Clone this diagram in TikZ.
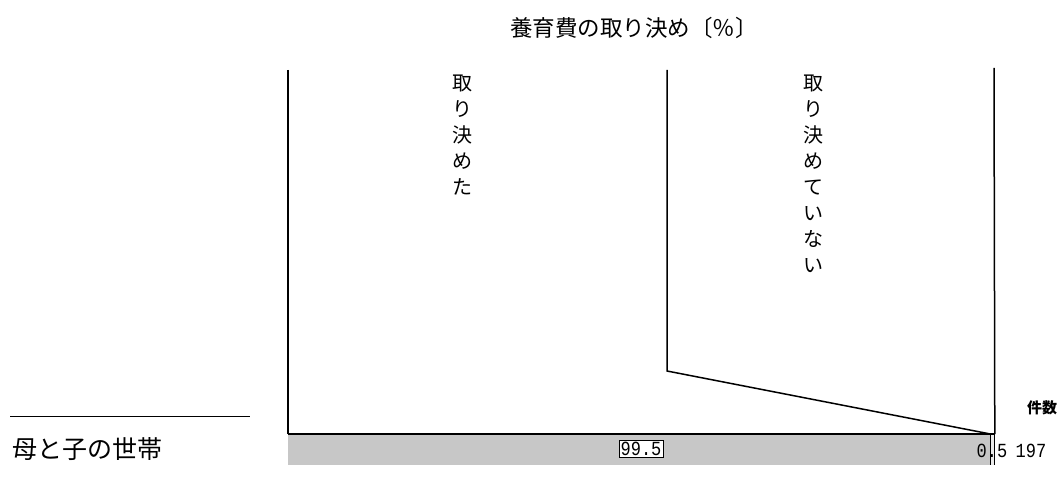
\documentclass[tikz,border=0pt]{standalone}
\usepackage{fontspec}
\setmainfont{Noto Sans CJK JP}
\newfontfamily\numfont{Liberation Mono}[FakeStretch=0.85]
\usetikzlibrary{positioning}

\tikzset{
  jlabel/.style={inner sep=0pt, font=\fontsize{22.5}{24}\selectfont},
  vlabel/.style={align=center, inner sep=0pt, anchor=north,
    font=\fontsize{20}{26}\selectfont},
  num/.style={inner sep=1.5pt, font=\numfont\fontsize{20}{21}\selectfont},
  barpart/.style={inner sep=0pt, minimum height=31pt},
  sep/.style={line width=1.5pt},
}

\begin{document}
\begin{tikzpicture}[x=1pt,y=-1pt]
		\useasboundingbox (0,0) rectangle (1060,489);

		\node[jlabel] (title) at (634,28) {養育費の取り決め〔％〕};

		% bar
		\node[barpart, fill=black!22, minimum width=702pt, anchor=north west]
		(yes) at (288,434) {};
		\node[barpart, fill=black!8, minimum width=4pt, right=0pt of yes]
		(no) {};

		\coordinate (ytop) at (288,70);
		\coordinate (mtop) at (667,70);
		\coordinate (mbend) at (667,371);
		\coordinate (rtop) at (994,68);
		\coordinate (rulea) at (10,416);
		\coordinate (ruleb) at (250,416);

		\draw[sep] (ytop) -- (yes.north west);
		\draw[sep] (mtop) -- (mbend) -- (no.north west);
		\draw[sep] (rtop) -- (no.north east);
		\draw[sep] (yes.north west) -- (no.north east);
		\draw[line width=1pt] (no.north west) -- (no.south west);
		\draw[line width=1pt] (no.north east) -- (no.south east);
		\draw[line width=1pt] (rulea) -- (ruleb);

		\node[vlabel] (lyes) at (462,75) {取\\り\\決\\め\\た};
		\node[vlabel] (lno) at (813,75) {取\\り\\決\\め\\て\\い\\な\\い};

		\node[jlabel, font=\fontsize{25}{26}\selectfont, anchor=west]
		(group) at (12,449) {母と子の世帯};
		\node[num, fill=white, draw, line width=0.8pt] (pyes) at (641,449) {99.5};
		\node[num] (pno) at (992,451) {0.5};
		\node[num, right=5pt of pno] (cnt) {197};
		\node[jlabel, font=\fontsize{15}{16}\selectfont\bfseries, anchor=west]
		(kensu) at (1027,408) {件数};

\end{tikzpicture}
\end{document}
